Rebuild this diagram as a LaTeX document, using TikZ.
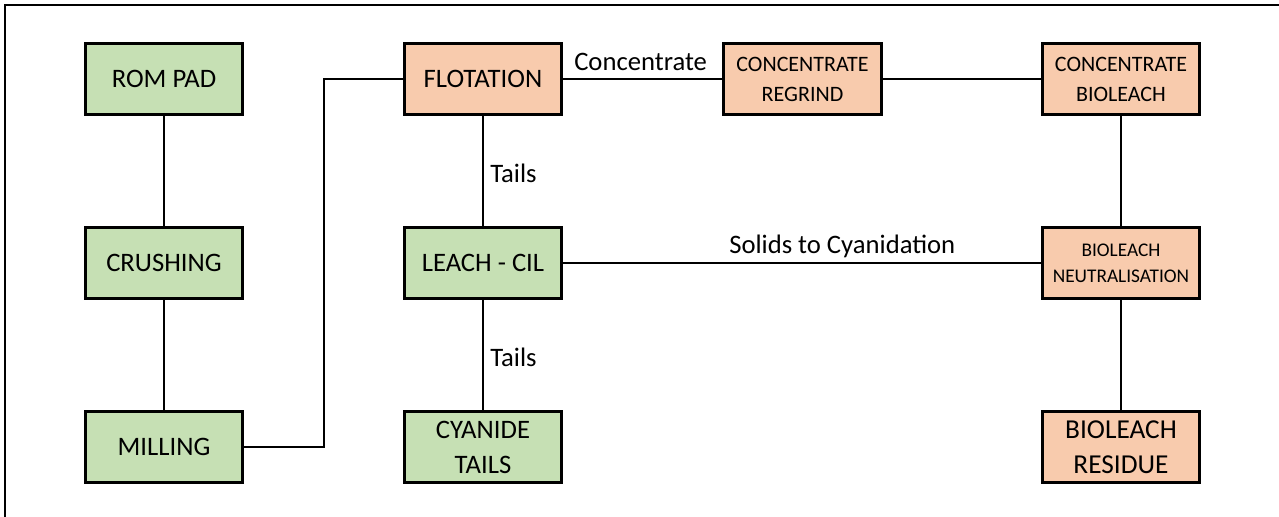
\documentclass[tikz,border=0pt]{standalone}
\usepackage{fontspec}
\setmainfont{Carlito}
\definecolor{stagegreen}{HTML}{C6E0B4}
\definecolor{stageorange}{HTML}{F8CBAD}
\tikzset{
  stagebox/.style={draw=black, line width=2.2pt, minimum width=118pt, minimum height=53.5pt,
    inner sep=0pt, align=center, font=\fontsize{20}{26}\selectfont},
  greenbox/.style={stagebox, fill=stagegreen},
  orangebox/.style={stagebox, fill=stageorange},
  smalltext/.style={font=\fontsize{16.5}{22.5}\selectfont},
  tinytext/.style={font=\fontsize{14.5}{19.5}\selectfont},
  flow/.style={draw=black, line width=1.5pt},
  flowlabel/.style={inner sep=0pt, font=\fontsize{20}{24}\selectfont}
}
\begin{document}
\begin{tikzpicture}[x=0.75pt, y=-0.75pt]
  \useasboundingbox (0,0) rectangle (1279,517);
  % outer frame (runs past the right and bottom edges)
  \draw[line width=1.6pt] (5,530) -- (5,5) -- (1290,5);

  % left column
  \node[greenbox] (rom) at (164,79) {ROM PAD};
  \node[greenbox] (crush) at (164,263) {CRUSHING};
  \node[greenbox] (mill) at (164,447) {MILLING};

  % second column
  \node[orangebox] (flot) at (483,79) {FLOTATION};
  \node[greenbox] (cil) at (483,263) {LEACH - CIL};
  \node[greenbox, font=\fontsize{20}{26.25}\selectfont] (cyt) at (483,447) {CYANIDE\\TAILS};

  % third and fourth columns
  \node[orangebox, smalltext] (regrind) at (802.5,79) {CONCENTRATE\\REGRIND};
  \node[orangebox, smalltext] (cbl) at (1121,79) {CONCENTRATE\\BIOLEACH};
  \node[orangebox, tinytext] (neut) at (1121,263) {BIOLEACH\\NEUTRALISATION};
  \node[orangebox, font=\fontsize{20.5}{26.25}\selectfont] (res) at (1121,447) {BIOLEACH\\RESIDUE};

  % connectors
  \coordinate (bend) at (324,447);
  \draw[flow] (rom) -- (crush);
  \draw[flow] (crush) -- (mill);
  \draw[flow] (mill.east) -- (bend) |- (flot.west);
  \draw[flow] (flot) -- (regrind);
  \draw[flow] (regrind) -- (cbl);
  \draw[flow] (flot) -- (cil);
  \draw[flow] (cil) -- (cyt);
  \draw[flow] (cbl) -- (neut);
  \draw[flow] (neut) -- (res);
  \draw[flow] (cil) -- (neut);

  % stream labels
  \node[flowlabel, anchor=base west] (lconc) at (574,71) {Concentrate};
  \node[flowlabel, anchor=base west] (ltails1) at (490,182) {Tails};
  \node[flowlabel, anchor=base west] (ltails2) at (490,366) {Tails};
  \node[flowlabel, anchor=base west] (lsolids) at (729,253) {Solids to Cyanidation};
\end{tikzpicture}
\end{document}
